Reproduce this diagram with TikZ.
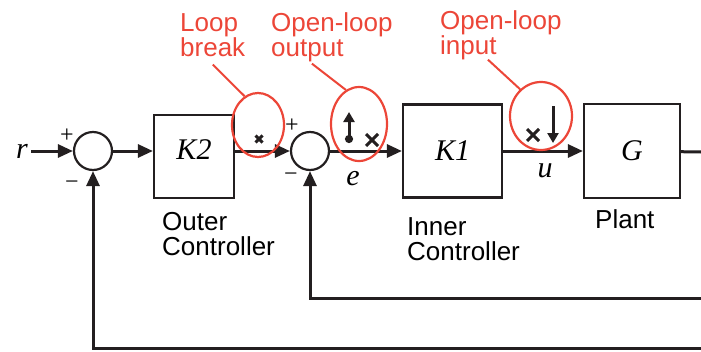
\documentclass[tikz,border=0pt]{standalone}
\usepackage{fontspec}
\setmainfont{Liberation Serif}
\newfontfamily\labfont{Liberation Sans}
\usetikzlibrary{arrows.meta,shapes.geometric}
\definecolor{annot}{RGB}{236,70,56}
\definecolor{ink}{RGB}{35,31,32}

\begin{document}
\begin{tikzpicture}[x=1pt,y=-1pt,
  blk/.style={draw=ink, line width=2.2pt, inner sep=0pt, font=\fontsize{30}{30}\selectfont\itshape},
  sumpt/.style={draw=ink, circle, line width=2.2pt, minimum size=38pt, inner sep=0pt},
  sig/.style={draw=ink, line width=3pt, -{Triangle[length=15pt,width=13pt]}},
  wire/.style={draw=ink, line width=3pt},
  ring/.style={draw=annot, ellipse, line width=2.2pt, inner sep=0pt},
  lead/.style={draw=annot, line width=2pt},
  caption/.style={font=\labfont\fontsize{26}{25}\selectfont, align=left, inner sep=0pt, anchor=north west},
  sgn/.style={font=\fontsize{24}{24}\selectfont, inner sep=0pt},
  sym/.style={font=\fontsize{30}{30}\selectfont\itshape, inner sep=0pt}]
\useasboundingbox (0,0) rectangle (701,351);

% blocks and summing points
\node[sym] (r) at (22,151) {r};
\node[sumpt] (s1) at (93,151) {};
\node[blk, minimum width=80pt, minimum height=83pt] (K2) at (194,156.5) {\raisebox{13pt}{K2}};
\node[sumpt] (s2) at (310,151) {};
\node[blk, minimum width=99pt, minimum height=93pt] (K1) at (452.5,151) {K1};
\node[blk, minimum width=96pt, minimum height=94pt] (G) at (632,151) {G};
\node[sym] (e) at (353,179) {e};
\node[sym] (u) at (545,171) {u};

\node[sgn] (p1) at (67,136) {+};
\node[sgn] (m1) at (72,185) {−};
\node[sgn] (p2) at (292,126) {+};
\node[sgn] (m2) at (291,177) {−};

\node[caption] (outer) at (162,212) {Outer\\Controller};
\node[caption] (inner) at (407,217) {Inner\\Controller};
\node[caption] (plant) at (595,209) {Plant};

% signal path
\coordinate (yend) at (701,152);
\coordinate (fbin) at (701,298);
\coordinate (fbout) at (701,348);
\draw[sig, shorten <=3pt] (r) -- (s1);
\draw[sig] (s1) -- (K2.west |- s1);
\draw[sig] (K2.east |- s2) -- (s2);
\draw[sig] (s2) -- (K1);
\draw[sig] (K1) -- (G);
\draw[wire] (G) -- (yend);
\draw[sig] (fbin) -| (s2);
\draw[sig] (fbout) -| (s1);

% analysis points
\foreach \cx/\cy/\d in {259/139/3.5, 372/140/6, 533/135/6}
  \draw[ink, line width=3pt] (\cx-\d,\cy-\d) -- (\cx+\d,\cy+\d) (\cx-\d,\cy+\d) -- (\cx+\d,\cy-\d);
\draw[ink, line width=3pt, {Circle[length=8pt]}-{Triangle[length=10pt,width=11pt]}] (349,143) -- (349,112);
\draw[ink, line width=3pt, -{Triangle[length=10pt,width=11pt]}] (553,106) -- (553,143);

% annotations
\node[ring, minimum width=52pt, minimum height=64pt] (brk) at (258,125) {};
\node[ring, minimum width=56pt, minimum height=74pt] (olo) at (359,124) {};
\node[ring, minimum width=62pt, minimum height=68pt] (oli) at (541,116) {};
\node[caption, text=annot] (brklab) at (180,13) {Loop\\break};
\node[caption, text=annot] (ololab) at (271,12) {Open-loop\\output};
\node[caption, text=annot] (olilab) at (440,10) {Open-loop\\input};
\draw[lead] ([yshift=-8pt]brklab.south) -- (brk.115);
\draw[lead] ([xshift=-20pt,yshift=-2pt]ololab.south) -- (olo.111);
\draw[lead] ([xshift=-13pt]olilab.south) -- (oli.128);
\end{tikzpicture}
\end{document}
